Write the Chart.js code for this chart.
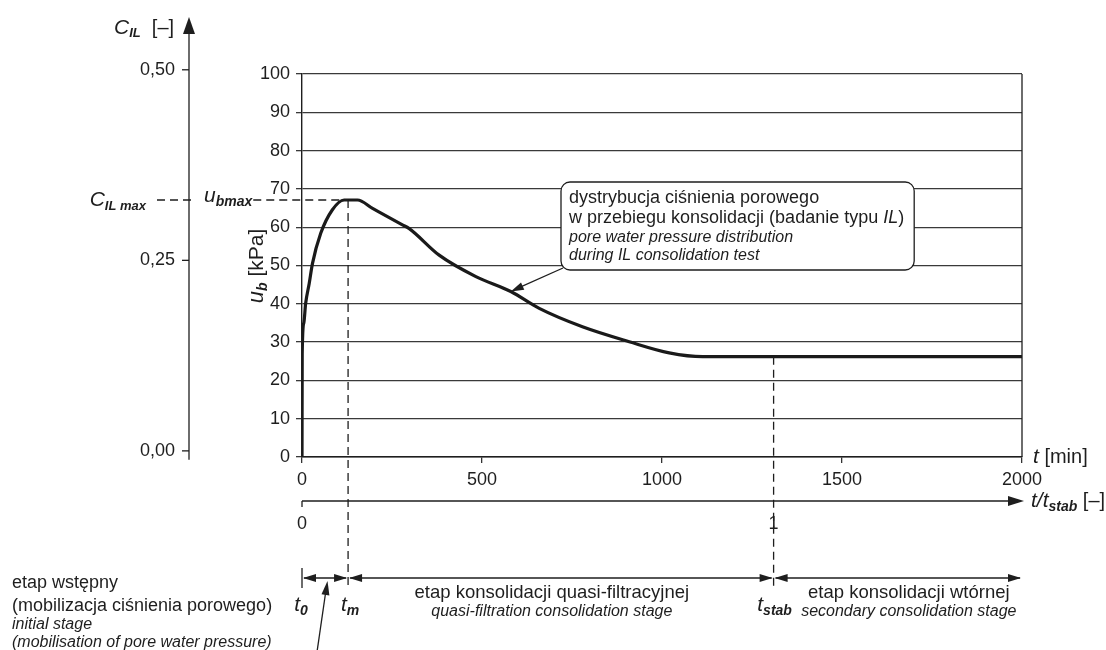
<!DOCTYPE html>
<html>
<head>
<meta charset="utf-8">
<script src="https://cdn.jsdelivr.net/npm/chart.js@4.4.1/dist/chart.umd.min.js"></script>
<style>
  html, body { margin: 0; padding: 0; background: #fff; }
  canvas { display: block; }
</style>
</head>
<body>
<canvas id="chart" width="1106" height="650"></canvas>
<script>
// pore pressure curve
const tMin = [0, 0.6, 5, 10, 20, 29, 52, 84, 117, 154, 196, 279, 297, 381, 483, 580, 659, 779, 909, 1020, 1113, 2000];
const ub   = [0, 27, 35, 40, 45.3, 50.5, 58.4, 64.5, 67.1, 67.1, 64.9, 60.6, 59.7, 52.7, 47.1, 43.2, 38.8, 34, 30.1, 27.2, 26.2, 26.2];

const xTicks = [0, 500, 1000, 1500, 2000];
const yTicks = [0, 10, 20, 30, 40, 50, 60, 70, 80, 90, 100];
const cTicks = [0, 0.25, 0.5];
const cTickLabels = ['0,00', '0,25', '0,50'];
const ratioTicks = [0, 1];

// stage boundaries [min] and key values
const t0 = 0, tM = 128, tStab = 1310, tEnd = 2000;
const uMax = 67.1, uStab = 26.2;
const callout = [580, 43.2];
// C_IL axis drawn against u_b: u = cBase + C * cSpan
const cBase = 1.6, cSpan = 199;

const FONT = '"Liberation Sans", Arial, sans-serif';
const fnt = (size, style) => (style ? style + ' ' : '') + size + 'px ' + FONT;
const INK = '#1e1e1e';

function rich(ctx, parts, x, y, align) {
  let w = 0;
  parts.forEach(p => { ctx.font = p[1]; w += ctx.measureText(p[0]).width; });
  let cx = align === 'center' ? x - w / 2 : align === 'right' ? x - w : x;
  ctx.textAlign = 'left';
  ctx.textBaseline = 'middle';
  parts.forEach(p => {
    ctx.font = p[1];
    ctx.fillText(p[0], cx, y + (p[2] || 0));
    cx += ctx.measureText(p[0]).width;
  });
  return w;
}

function seg(ctx, x1, y1, x2, y2, dash) {
  ctx.setLineDash(dash || []);
  ctx.beginPath();
  ctx.moveTo(x1, y1);
  ctx.lineTo(x2, y2);
  ctx.stroke();
  ctx.setLineDash([]);
}

function head(ctx, x1, y1, x2, y2, len, half) {
  const a = Math.atan2(y2 - y1, x2 - x1);
  const bx = x2 - len * Math.cos(a), by = y2 - len * Math.sin(a);
  ctx.beginPath();
  ctx.moveTo(x2, y2);
  ctx.lineTo(bx + half * Math.sin(a), by - half * Math.cos(a));
  ctx.lineTo(bx - half * Math.sin(a), by + half * Math.cos(a));
  ctx.closePath();
  ctx.fill();
}

const notes = {
  id: 'notes',
  afterDraw(chart) {
    const { ctx, chartArea: ca, scales: { x, y } } = chart;
    ctx.save();
    ctx.strokeStyle = INK;
    ctx.fillStyle = INK;
    ctx.lineWidth = 1.3;

    // right frame
    seg(ctx, ca.right, ca.top, ca.right, ca.bottom);

    // C_IL axis on the far left
    const xa = 189;
    const cPix = c => y.getPixelForValue(cBase + c * cSpan);
    seg(ctx, xa, 30, xa, cPix(0) + 9);
    head(ctx, xa, 40, xa, 17, 17, 6);
    cTicks.forEach((c, i) => {
      const py = cPix(c);
      seg(ctx, xa - 7, py, xa, py);
      ctx.font = fnt(18);
      ctx.textAlign = 'right';
      ctx.textBaseline = 'middle';
      ctx.fillText(cTickLabels[i], xa - 14, py);
    });
    rich(ctx, [['C', fnt(21, 'italic')], ['IL', fnt(13, 'italic bold'), 5], ['  [–]', fnt(20)]], 114, 28, 'left');

    // C_IL max / u_bmax dashed level
    const yMax = y.getPixelForValue(uMax);
    const xM = x.getPixelForValue(tM);
    rich(ctx, [['C', fnt(21, 'italic')], ['IL max', fnt(13, 'italic bold'), 6]], 146, yMax, 'right');
    seg(ctx, 157, yMax, xa + 2, yMax, [8, 5]);
    const wu = rich(ctx, [['u', fnt(21, 'italic')], ['bmax', fnt(14, 'italic bold'), 6]], 204, yMax - 4, 'left');
    seg(ctx, 204 + wu + 1, yMax, xM, yMax, [8, 5]);

    // y axis title
    ctx.save();
    ctx.translate(257, 266);
    ctx.rotate(-Math.PI / 2);
    rich(ctx, [['u', fnt(22, 'italic')], ['b', fnt(14, 'italic bold'), 6], [' [kPa]', fnt(21)]], 0, 0, 'center');
    ctx.restore();

    // x axis title
    rich(ctx, [['t', fnt(21, 'italic')], [' [min]', fnt(20)]], 1033, ca.bottom, 'left');

    // stage boundaries
    const xS = x.getPixelForValue(tStab);
    const yEnd = ca.bottom + 131;
    seg(ctx, xM, yMax, xM, yEnd, [8, 5]);
    seg(ctx, xS, y.getPixelForValue(uStab), xS, yEnd, [8, 5]);

    // t/t_stab axis
    const yr = ca.bottom + 44;
    const x0 = x.getPixelForValue(0), x2 = x.getPixelForValue(tEnd);
    seg(ctx, x0, yr, x2 - 4, yr);
    head(ctx, x0, yr, x2 + 2, yr, 16, 5);
    seg(ctx, x0, yr, x0, yr + 6);
    ratioTicks.forEach(r => {
      ctx.font = fnt(18);
      ctx.textAlign = 'center';
      ctx.textBaseline = 'middle';
      ctx.fillText(String(r), x.getPixelForValue(r * tStab), yr + 23);
    });
    rich(ctx, [['t/t', fnt(21, 'italic')], ['stab', fnt(14, 'italic bold'), 6], [' [–]', fnt(20)]], 1031, yr, 'left');

    // stage arrows
    const ys = ca.bottom + 121;
    const xT0 = x.getPixelForValue(t0), xE = x.getPixelForValue(tEnd);
    seg(ctx, xT0, ys - 10, xT0, ys + 10);
    [[xT0, xM], [xM, xS], [xS, xE]].forEach(([a, b]) => {
      seg(ctx, a + 2, ys, b - 2, ys);
      head(ctx, b, ys, a + 1, ys, 13, 4);
      head(ctx, a, ys, b - 1, ys, 13, 4);
    });

    // stage labels
    const yl = ys + 27;
    rich(ctx, [['t', fnt(21, 'italic')], ['0', fnt(14, 'italic bold'), 6]], xT0 - 1, yl, 'center');
    rich(ctx, [['t', fnt(21, 'italic')], ['m', fnt(14, 'italic bold'), 6]], xM + 2, yl, 'center');
    rich(ctx, [['t', fnt(21, 'italic')], ['stab', fnt(14, 'italic bold'), 6]], xS + 1, yl, 'center');

    const midQ = (xM + xS) / 2 - 9, midS = (xS + xE) / 2 + 11;
    rich(ctx, [['etap konsolidacji quasi-filtracyjnej', fnt(18.5)]], midQ, ys + 15, 'center');
    rich(ctx, [['quasi-filtration consolidation stage', fnt(16, 'italic')]], midQ, ys + 34, 'center');
    rich(ctx, [['etap konsolidacji wtórnej', fnt(18.5)]], midS, ys + 15, 'center');
    rich(ctx, [['secondary consolidation stage', fnt(16, 'italic')]], midS, ys + 34, 'center');

    // initial stage text + pointer
    rich(ctx, [['etap wstępny', fnt(18)]], 12, ys + 5, 'left');
    rich(ctx, [['(mobilizacja ciśnienia porowego)', fnt(18)]], 12, ys + 28, 'left');
    rich(ctx, [['initial stage', fnt(16, 'italic')]], 12, ys + 47, 'left');
    rich(ctx, [['(mobilisation of pore water pressure)', fnt(16, 'italic')]], 12, ys + 65, 'left');
    seg(ctx, 317, 652, 326, 590);
    head(ctx, 317, 652, 327.5, ys + 3, 14, 4);

    // annotation box
    const bl = 561, bt = 182, bh = 88, r = 9;
    const lines = [
      [['dystrybucja ciśnienia porowego', fnt(18)]],
      [['w przebiegu konsolidacji (badanie typu ', fnt(18)], ['IL', fnt(18, 'italic')], [')', fnt(18)]],
      [['pore water pressure distribution', fnt(16, 'italic')]],
      [['during IL consolidation test', fnt(16, 'italic')]]
    ];
    let bw = 0;
    lines.forEach(parts => {
      let w = 0;
      parts.forEach(p => { ctx.font = p[1]; w += ctx.measureText(p[0]).width; });
      bw = Math.max(bw, w);
    });
    bw += 18;
    ctx.fillStyle = '#fff';
    ctx.beginPath();
    ctx.moveTo(bl + r, bt);
    ctx.arcTo(bl + bw, bt, bl + bw, bt + bh, r);
    ctx.arcTo(bl + bw, bt + bh, bl, bt + bh, r);
    ctx.arcTo(bl, bt + bh, bl, bt, r);
    ctx.arcTo(bl, bt, bl + bw, bt, r);
    ctx.closePath();
    ctx.fill();
    ctx.stroke();
    ctx.fillStyle = INK;
    [198, 218, 238, 256].forEach((ly, i) => rich(ctx, lines[i], bl + 8, ly, 'left'));

    // callout arrow to the curve
    const px = x.getPixelForValue(callout[0]), py = y.getPixelForValue(callout[1]);
    seg(ctx, bl + 2, bt + bh - 2, px + 6, py - 3);
    head(ctx, bl + 2, bt + bh - 2, px, py, 13, 4);

    ctx.restore();
  }
};

new Chart(document.getElementById('chart').getContext('2d'), {
  type: 'line',
  data: {
    datasets: [{
      data: tMin.map((t, i) => ({ x: t, y: ub[i] })),
      borderColor: '#1a1a1a',
      borderWidth: 3.2,
      pointRadius: 0,
      cubicInterpolationMode: 'monotone',
      fill: false
    }]
  },
  options: {
    responsive: false,
    animation: false,
    devicePixelRatio: 1,
    layout: { padding: { top: 74, right: 84, left: 0, bottom: 0 } },
    plugins: { legend: { display: false }, tooltip: { enabled: false } },
    scales: {
      x: {
        type: 'linear',
        min: 0,
        max: 2000,
        afterFit: s => { s.height = 193; },
        afterBuildTicks: s => { s.ticks = xTicks.map(v => ({ value: v })); },
        grid: { drawOnChartArea: false, tickLength: 6, color: '#333', lineWidth: 1.3 },
        border: { color: INK, width: 1.4 },
        ticks: { color: INK, font: { family: FONT, size: 18 }, padding: 6, maxRotation: 0, callback: v => String(v) }
      },
      y: {
        type: 'linear',
        min: 0,
        max: 100,
        afterFit: s => { s.width = 302; },
        afterBuildTicks: s => { s.ticks = yTicks.map(v => ({ value: v })); },
        grid: { tickLength: 6, color: '#3a3a3a', lineWidth: 1.3 },
        border: { color: INK, width: 1.4 },
        ticks: { color: INK, font: { family: FONT, size: 18 }, padding: 6, callback: v => String(v) }
      }
    }
  },
  plugins: [notes]
});
</script>
</body>
</html>
